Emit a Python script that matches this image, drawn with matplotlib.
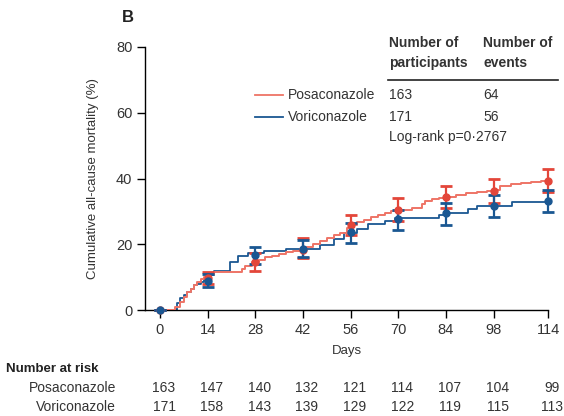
import numpy as np
import matplotlib.pyplot as plt

plt.rcParams['font.family'] = ['Liberation Sans Narrow', 'Liberation Sans', 'DejaVu Sans']

# step curves (day, cumulative %)
posa_t = [0, 4.5, 6, 7, 8, 9, 10, 11, 12, 13, 15, 16, 24, 25, 27, 29, 31, 33, 35, 37, 39, 41,
          43, 45, 47, 49, 51, 53, 55, 56, 58, 60, 62, 64, 66, 68, 70, 74, 77, 78, 80, 82, 84,
          87, 90, 93, 96, 99, 100, 103, 106, 109, 112, 114]
posa_y = [0, 1, 2.5, 4, 5.5, 6.5, 7.5, 8.5, 9.5, 10, 11, 11.7, 12.5, 13.5, 14.5, 15.3, 16, 16.5,
          17, 17.5, 18, 18.5, 19.2, 20, 21, 22, 22.7, 23.5, 25, 26, 26.8, 27.5, 28.3, 29, 29.6,
          30.2, 30.5, 31, 32.2, 33.3, 33.8, 34.2, 34.5, 35, 35.6, 36, 36.3, 36.6, 37.6, 38.2,
          38.6, 39, 39.3, 39.3]
vori_t = [0, 5, 6, 7, 8, 9, 10, 11, 12, 13, 15, 16, 20.5, 23, 26, 30.5, 37, 47, 51, 54, 58, 61,
          66, 69, 82, 83.5, 90.5, 93, 103.5, 114]
vori_y = [0, 2, 3.5, 4.5, 5.5, 6.5, 7.5, 8, 8.5, 9, 10.5, 12, 14.5, 16.5, 17.2, 18, 18.6, 19.8,
          21.7, 23.5, 24.5, 26.3, 27.2, 28, 29, 29.4, 30.8, 31.5, 32.8, 33.1]

days = [0, 14, 28, 42, 56, 70, 84, 98, 114]
posa_est = [0, 9.7, 14.7, 18.2, 25.8, 30.4, 34.4, 36.3, 39.3]
posa_lo = [0, 7.8, 12.0, 15.8, 22.7, 27.0, 30.9, 32.5, 36.0]
posa_hi = [0, 11.6, 17.2, 21.9, 28.9, 34.2, 37.8, 40.0, 42.9]
vori_est = [0, 8.9, 16.7, 18.5, 23.8, 27.7, 29.4, 31.7, 33.1]
vori_lo = [0, 7.0, 13.9, 16.0, 20.5, 24.3, 25.8, 28.4, 29.9]
vori_hi = [0, 11.0, 19.1, 21.2, 26.4, 30.4, 32.6, 35.0, 36.5]

risk_posa = [163, 147, 140, 132, 121, 114, 107, 104, 99]
risk_vori = [171, 158, 143, 139, 129, 122, 119, 115, 113]

red = '#e3463a'
red_line = '#ee7466'
blue = '#1a5792'
txt = '#333333'
fs = 10

fig = plt.figure(figsize=(5.64, 4.16), dpi=100)
W, H = 564, 416
ax = fig.add_axes([145 / W, 106 / H, 403 / W, 263 / H])

ax.step(posa_t, posa_y, where='post', color=red_line, lw=1.4, zorder=3)
ax.step(vori_t, vori_y, where='post', color=blue, lw=1.3, zorder=2)

for est, lo, hi, c in [(posa_est, posa_lo, posa_hi, red), (vori_est, vori_lo, vori_hi, blue)]:
    est = np.array(est)
    err = [est - np.array(lo), np.array(hi) - est]
    ax.errorbar(days, est, yerr=err, fmt='o', color=c, ms=5, elinewidth=1.6,
                capsize=4, capthick=2, clip_on=False, zorder=4)

ax.set_xlim(-4.4, 114)
ax.set_ylim(0, 80)
ax.set_xticks(days)
ax.set_yticks([0, 20, 40, 60, 80])
for s in ['top', 'right']:
    ax.spines[s].set_visible(False)
for s in ['left', 'bottom']:
    ax.spines[s].set_linewidth(1.0)
ax.tick_params(direction='out', length=6, width=1, labelsize=10.5, labelcolor=txt, pad=3)
ax.set_xlabel('Days', fontsize=9.5, color=txt, labelpad=6)
ax.set_ylabel('Cumulative all-cause mortality (%)', fontsize=9.5, color=txt, labelpad=12)

def ft(x, y, s, **kw):
    fig.text(x / W, 1 - y / H, s, **kw)

ft(128, 18, 'B', fontsize=12, fontweight='bold', ha='center', va='center', color='#222222')

# legend table
ft(389, 43, 'Number of', fontsize=fs, fontweight='bold', va='center', color=txt)
ft(389, 63, 'participants', fontsize=fs, fontweight='bold', va='center', color=txt)
ft(483, 43, 'Number of', fontsize=fs, fontweight='bold', va='center', color=txt)
ft(483, 63, 'events', fontsize=fs, fontweight='bold', va='center', color=txt)
fig.add_artist(plt.Line2D([388 / W, 558 / W], [1 - 80 / H, 1 - 80 / H], color='#222222', lw=1.2))
rows = [('Posaconazole', 163, 64, red_line, 95), ('Voriconazole', 171, 56, blue, 117)]
for name, n, ev, c, y in rows:
    fig.add_artist(plt.Line2D([255 / W, 283 / W], [1 - y / H, 1 - y / H], color=c, lw=1.3))
    ft(288, y, name, fontsize=fs, va='center', color=txt)
    ft(389, y, str(n), fontsize=fs, va='center', color=txt)
    ft(483, y, str(ev), fontsize=fs, va='center', color=txt)
ft(389, 137, 'Log-rank p=0\u00b72767', fontsize=fs, va='center', color=txt)

# number at risk
ft(6, 369, 'Number at risk', fontsize=9.5, fontweight='bold', va='center', color='#222222')
for name, vals, y in [('Posaconazole', risk_posa, 388), ('Voriconazole', risk_vori, 407)]:
    ft(116, y, name, fontsize=fs, ha='right', va='center', color=txt)
    for d, v in zip(days, vals):
        xpix = 160 + d * 388 / 114
        ft(xpix + 4, y, str(v), fontsize=fs, ha='center', va='center', color=txt)

fig.savefig('out.png', dpi=100)
